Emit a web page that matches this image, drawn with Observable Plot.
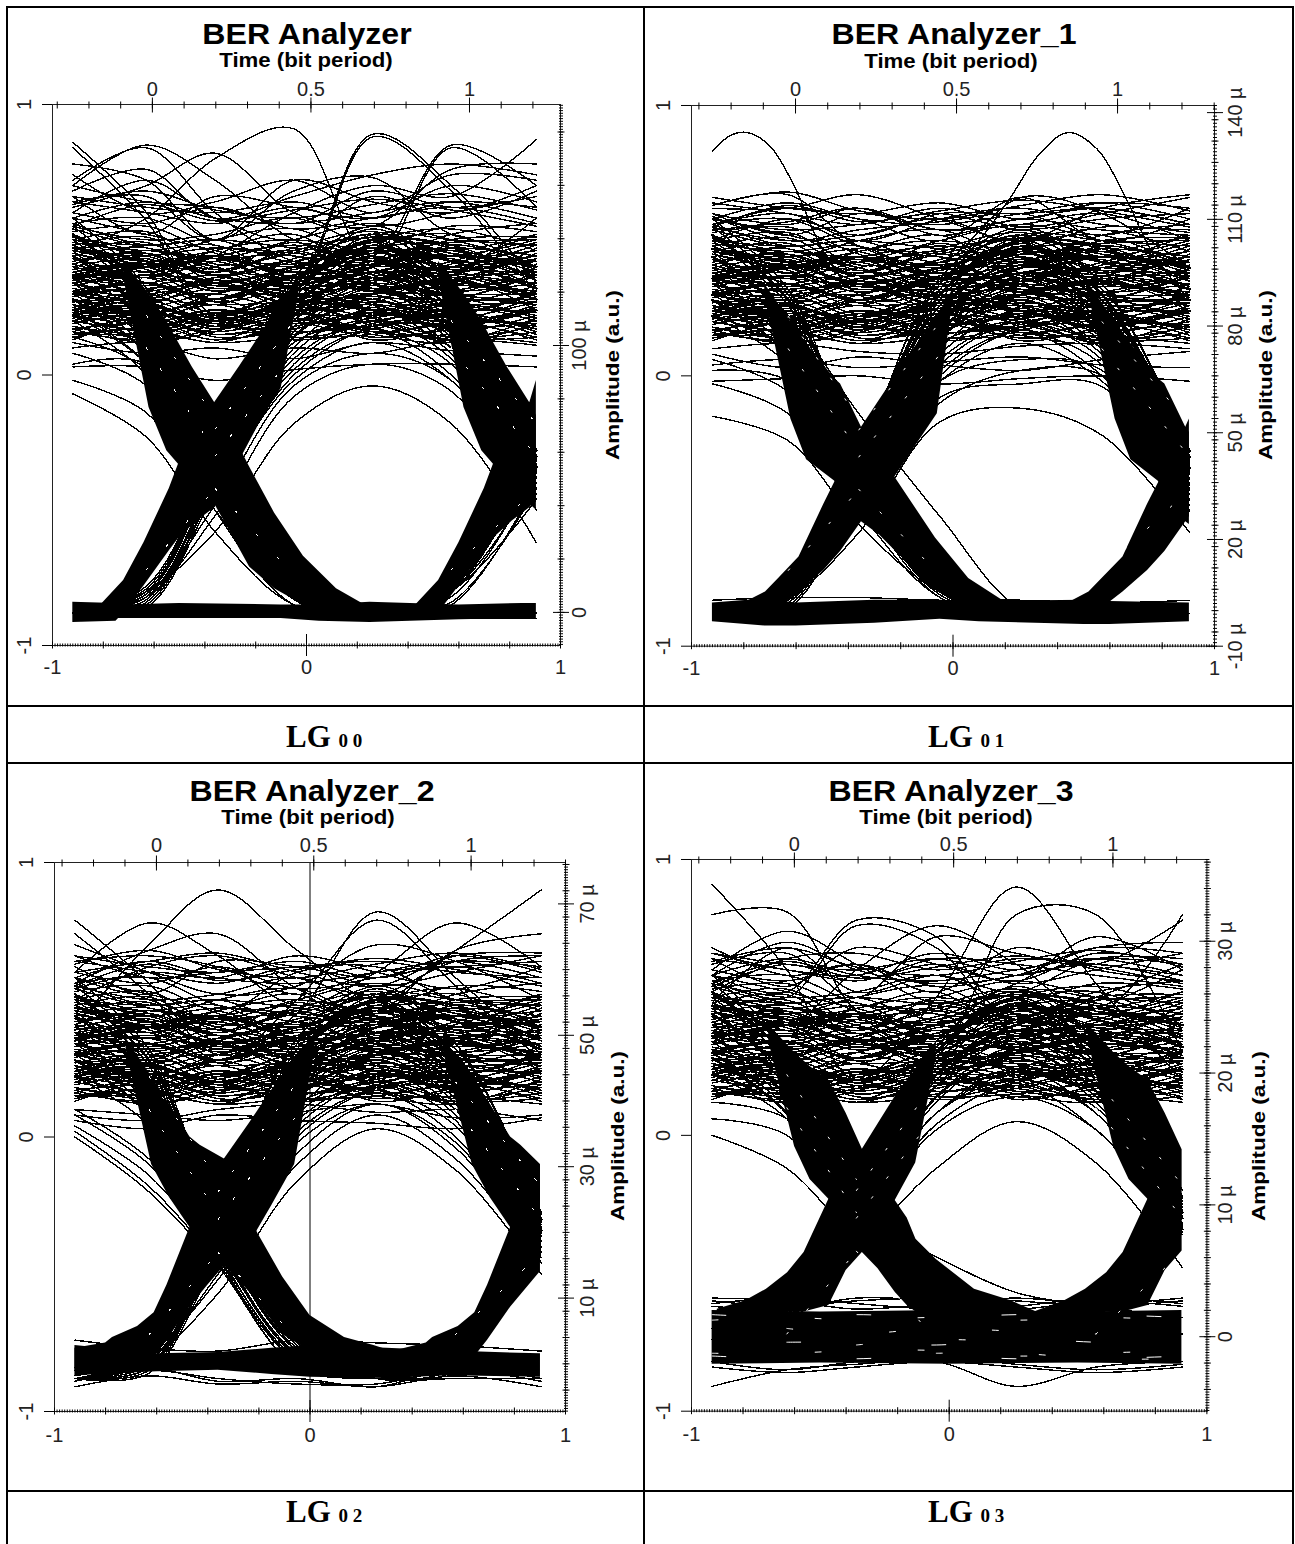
<!DOCTYPE html>
<html><head><meta charset="utf-8">
<script src="https://cdn.jsdelivr.net/npm/d3@7"></script>
<script src="https://cdn.jsdelivr.net/npm/@observablehq/plot@0.6"></script>
<style>
html,body{margin:0;padding:0;background:#fff}
#page{position:relative;width:1295px;height:1544px;overflow:hidden;background:#fff;color:#000}
.ln{position:absolute;background:#000}
.tx{position:absolute;white-space:nowrap;font-family:"Liberation Sans",Arial,sans-serif;font-weight:700;color:#000;line-height:1}
.cap{position:absolute;white-space:nowrap;font-family:"Liberation Serif","Times New Roman",serif;font-weight:700;font-size:31px;line-height:1;transform:translateY(-50%)}
.cap span{font-size:19px}
</style></head><body><div id="page"></div>
<script>
const _=null;
// knots of every trace, on the lower (normalised time) axis
const knotX=[-0.92,-0.63,-0.36,-0.05,0.26,0.57,0.905];
// traces that stay in the upper level, values x100 of the left axis
const denseHigh=[
[58,52,46,40,50,54,46],[56,58,48,44,42,52,56],[55,50,52,58,47,44,50],[54,47,43,50,56,50,42],[53,55,45,38,46,55,53],
[52,44,50,54,42,40,48],[50,53,41,45,52,47,38],[49,46,48,36,40,50,51],[48,51,39,47,53,44,46],[47,42,46,52,37,42,52],
[46,49,37,42,49,52,40],[45,40,44,48,44,36,45],[44,47,35,40,47,48,35],[43,38,43,34,50,45,42],[42,45,38,49,38,34,47],
[41,36,42,44,33,41,49],[40,43,33,37,45,46,36],[39,41,37,31,42,38,43],[38,34,40,46,36,30,41],[37,40,31,39,41,43,33],
[36,33,37,29,35,40,44],[35,38,28,36,43,34,31],[34,30,35,42,32,28,38],[33,36,27,33,38,37,29],[32,29,34,26,30,35,39],
[31,34,26,37,36,27,33],[30,27,32,28,25,31,36],[29,32,23,31,34,30,26],[28,25,30,24,28,33,31],[27,30,22,29,32,25,24],
[26,23,28,34,24,22,30],[25,28,20,25,30,29,21],[24,21,26,19,23,27,28],[23,26,19,27,28,20,25],[22,19,24,21,18,25,27],
[21,24,17,23,26,22,18],[20,17,23,16,20,24,23],[19,22,15,20,25,17,20],[18,15,20,24,16,15,22],[17,19,13,18,22,20,14],
[16,13,18,14,15,19,19],[15,17,12,19,17,13,16],[46,44,47,45,43,47,44],[42,46,43,41,46,44,42],
[38,41,39,36,41,39,38],[34,37,35,33,38,36,34],[30,32,33,30,33,30,30],[50,48,50,47,45,49,50],
[37,36,34,38,35,37,37],[27,28,26,27,29,26,27],
[51,45,37,43,51,45,35],[45,39,31,37,45,39,29],[41,46,40,33,41,46,39],[35,40,34,27,35,40,33],[31,28,36,40,31,28,37],
[26,22,30,34,26,22,31],[24,20,28,32,24,20,29],[48,40,42,35,48,40,42],[38,33,37,28,38,33,36],[36,31,35,26,36,31,34],
[28,22,16,22,27,23,17],[26,19,24,14,19,26,22],[24,27,18,23,16,20,27],[22,16,22,26,21,14,18],[20,24,14,17,24,21,13],
[18,14,21,24,13,18,24],[16,21,13,22,20,12,19],[14,18,20,13,17,22,15],[13,20,15,18,23,16,12],[22,25,21,19,22,26,20],
[19,23,19,16,18,23,17],[17,12,17,21,15,12,21],[15,16,23,20,14,17,26],[25,17,12,15,21,24,16],[23,13,16,25,19,13,14]];
// sparser traces above the dense level
const upperExtra=[[60,56,62,54,58,62,56],[58,64,58,56,60,64,58],[64,60,56,62,55,60,66],[66,62,60,64,58,64,62],[55,63,57,61,65,61,55],[63,68,61,58,63,67,61]];
// rise out of the low level, shared by the first three eyes
const riseStay=[[-88,-82,-40,10,30,34,30],[-88,-84,-36,22,40,44,36],[-88,-80,-32,30,52,50,48],[-88,-85,-42,4,22,28,26],[-88,-78,-30,34,50,46,52],[-88,-83,-38,16,36,40,42],[-88,-86,-44,0,18,22,30],[-88,-81,-34,26,46,38,34],[-88,-82,-37,20,34,48,40],[-88,-79,-31,36,55,42,44],[-88,-84,-41,8,26,36,24],[-88,-80,-35,24,42,30,28]];
const arches=[[-88,-82,-40,8,24,8,-40],[-88,-84,-36,20,38,22,-35],[-88,-80,-32,28,50,30,-30],[-88,-85,-42,2,16,0,-44],[-88,-78,-30,32,54,34,-28],[-88,-83,-38,14,32,18,-38],[-88,-86,-44,-2,12,-2,-46],[-88,-81,-34,24,44,26,-33],[-88,-82,-37,18,28,14,-36],[-88,-79,-31,30,46,28,-31],[-88,-84,-41,6,20,10,-42],[-88,-80,-35,22,36,20,-34],[-88,-83,-39,12,18,16,-40],[-88,-81,-33,26,40,32,-32]];
const falls=[[40,18,-36,-78,-88,-88,-88],[50,26,-32,-76,-88,-88,-88],[30,10,-40,-80,-88,-88,-88],[55,30,-30,-74,-87,-88,-88],[22,4,-44,-82,-88,-88,-88],[46,20,-34,-78,-88,-80,-38],[36,14,-38,-80,-88,-82,-36],[52,28,-31,-75,-87,-79,-33],[28,8,-42,-81,-88,-84,-42],[58,32,-28,-72,-86,-80,-30],[44,22,-35,-77,-88,-78,-35],[34,12,-39,-79,-88,-85,-40]];
const highFall=[[40,36,44,38,42,24,-36],[50,44,38,46,50,30,-32],[30,26,34,24,30,12,-40],[56,48,50,42,52,34,-28],[24,30,22,30,22,6,-44],[46,40,32,36,46,26,-34],[36,42,40,28,36,18,-38],[52,38,46,50,44,28,-31],[28,22,28,20,26,10,-42],[44,34,30,40,38,22,-36],[34,28,36,32,34,16,-38],[20,24,18,26,18,4,-46]];
// the fourth eye has a thicker, higher low level
const p3Fans=[[-72,-64,-26,22,42,46,40],[-72,-66,-30,12,32,36,30],[-74,-62,-22,30,52,50,48],[-70,-66,-32,8,24,30,26],[-72,-60,-20,34,50,46,52],[-76,-65,-28,18,36,40,42],[-68,-66,-33,4,20,24,30],[-72,-63,-24,26,46,38,34],
[-72,-65,-32,8,24,8,-32],[-74,-66,-28,20,38,22,-27],[-70,-62,-24,28,50,30,-22],[-72,-67,-34,4,18,2,-35],[-76,-60,-22,32,54,34,-20],[-72,-65,-30,14,32,18,-30],[-68,-68,-35,2,14,2,-36],[-72,-63,-26,24,44,26,-25],[-74,-64,-29,18,28,14,-28],[-72,-61,-23,30,46,28,-23],[-70,-66,-33,8,20,10,-33],[-72,-62,-27,22,36,20,-26],
[40,18,-28,-62,-72,-72,-72],[50,26,-24,-60,-74,-72,-72],[30,10,-32,-64,-70,-72,-72],[55,30,-22,-58,-74,-76,-72],[22,6,-35,-66,-72,-72,-72],[46,20,-26,-62,-72,-64,-30],[36,14,-30,-64,-76,-66,-28],[52,28,-23,-60,-70,-62,-25],[28,8,-33,-65,-72,-68,-34],[58,32,-20,-56,-68,-64,-22],[44,22,-27,-61,-74,-62,-27],[34,12,-31,-63,-72,-68,-32],
[40,36,44,38,42,24,-28],[50,44,38,46,50,30,-24],[30,26,34,24,30,12,-32],[56,48,50,42,52,34,-20],[24,30,22,30,22,8,-35],[46,40,32,36,46,26,-26],[36,42,40,28,36,18,-30],[52,38,46,50,44,28,-23]];
// traces that can be followed by eye, one list per eye
const p0Outer=[[46,58,80,91,40,38,58],[86,60,22,32,89,70,34],[84,57,20,30,88,68,30],[70,85,72,50,44,85,70],[72,84,60,42,40,84,62],[44,36,44,60,70,66,87],[62,70,82,60,55,76,78],[78,72,50,68,73,52,48],[68,76,58,66,74,78,74],[74,60,64,72,60,74,72],[60,72,58,50,66,58,68],[66,52,66,62,58,70,64],[64,66,50,72,64,60,70],[70,64,62,56,68,62,66],
[-7,-23,-58,-85,-88,-88,-88],[-88,-80,-58,-18,-4,-18,-62],[-2,-14,-50,-82,-88,-88,-88],[-88,-82,-52,-8,4,-6,-50],[-88,-81,-48,-4,8,-2,-46],[4,4,-40,-80,-88,-88,-88],[3,3,-2,2,4,4,3],[20,0,-50,-85,-90,-90,-90],[24,4,-47,-83,-90,-90,-90],[12,8,10,6,12,9,7],[10,12,6,10,8,13,11],[8,-4,-44,-80,-88,-88,-88],[14,2,-40,-78,-88,-80,-46]];
const p1Outer=[[63,67,48,42,66,60,40],[62,62,67,58,50,62,67],[56,62,58,50,66,50,58],[50,58,52,60,60,62,56],[60,52,60,54,56,60,50],[56,60,50,58,62,56,54],[58,54,56,60,54,58,60],[54,57,62,52,58,54,52],[59,50,54,57,60,52,62],
[-15,-24,-55,-80,-88,-88,-88],[-88,-82,-58,-17,-12,-22,-58],[-3,-14,-50,-82,-88,-88,-88],[2,-2,-44,-80,-88,-88,-88],[-88,-80,-50,-8,-3,-4,-50],[-88,-80,-52,-10,2,0,-48],[30,20,-14,-52,-86,-88,-88],[-83,-82,-82,-83,-83,-84,-83],[-2,-1,0,-3,-1,0,-2],[4,6,3,5,7,4,3],[8,3,7,4,2,6,9],[10,12,9,8,11,12,10],[6,-6,-46,-80,-88,-88,-88],[-88,-83,-46,-2,6,2,-44]];
const p2Outer=[[40,70,90,68,50,68,90],[79,56,30,45,82,58,30],[60,78,66,48,60,78,62],[56,68,74,54,46,68,74],[74,52,28,50,79,55,28],[60,64,67,60,55,66,67],[50,62,66,58,52,64,66],[62,50,44,60,62,50,48],[70,60,52,55,70,64,50],[66,58,60,62,64,60,58],[64,66,62,52,60,62,64],[58,52,64,62,58,66,60],[54,60,58,66,60,54,62],
[4,-14,-44,-82,-88,-88,-88],[8,-10,-42,-80,-88,-88,-88],[10,-8,-40,-80,-88,-88,-88],[2,-18,-46,-84,-88,-88,-88],[0,-20,-47,-84,-88,-88,-88],[-85,-80,-57,-16,3,-12,-50],[-84,-78,-52,-10,8,-8,-46],[-84,-79,-50,-6,12,-4,-44],[-91,-87,-90,-89,-91,-87,-91],[-89,-85,-88,-90,-90,-85,-89],[-87,-84,-89,-88,-91,-84,-88],[-74,-77,-78,-74,-75,-76,-78],[10,8,6,9,12,7,8],[8,6,10,12,9,10,6],[6,3,8,6,5,3,7]];
const p3Outer=[[91,60,20,50,90,55,20],[80,81,45,30,80,80,30],[58,52,78,72,40,50,62],[56,50,76,68,38,46,60],[60,74,62,48,55,72,60],[45,40,60,76,62,44,80],[62,66,50,72,66,62,78],[66,60,58,66,60,68,66],[58,70,60,55,58,68,70],[52,64,66,60,64,62,58],[64,54,68,62,56,66,62],[54,62,56,64,62,58,54],[48,68,52,58,52,64,64],[68,58,62,52,68,60,56],
[0,-12,-38,-62,-72,-72,-72],[6,0,-32,-60,-72,-72,-72],[-72,-66,-42,-12,5,-10,-48],[30,8,-28,-44,-57,-62,-66],[12,6,-26,-56,-72,-70,-32],
[-91,-85,-83,-82,-91,-84,-82],[-84,-86,-84,-82,-84,-86,-84],[-82,-85,-82,-80,-83,-85,-83],[-60,-62,-60,-59,-60,-62,-60],[-59,-60,-63,-61,-59,-61,-59],[-61,-59,-61,-63,-62,-59,-61],[-62,-63,-59,-60,-63,-60,-62]];
// heavily overlapped strands, drawn as wider lines
const heavy=[[47,42,34,40,47,42,32],[36,40,44,36,38,44,40],[30,34,28,36,31,35,28],[22,26,20,27,24,18,24],[52,28,-30],[44,22,-32],[36,14,-34],[28,8,-36],[_,_,-32,22,40,44],[_,_,-36,14,30,36],[_,_,-30,30,50,48],[_,_,_,_,44,24,-30],[_,_,_,_,34,16,-34],[_,_,_,_,50,30,-28]];
// pale specks left between the strands of the bundles
const specksFan=[[_,22,-16],[_,10,-28],[_,_,-20,20],[_,_,-30,8],[_,_,_,_,_,20,-18],[_,_,_,_,_,10,-30]];
const specksLow=[[_,-72,-42],[_,_,-42,-74],[_,_,_,_,_,-72,-42]];
const p3BandGaps=[[-67,-66,-67,-66,-67,-66,-67],[_,-70,-72,-70,-71,-72],[_,_,-76,-74,-75],[-79,-79,-78,-78,-80,-79,-78],[_,_,_,-79,-79,-81,-81]];
const p3BandGapsLong=[[-65,-66,-65,-66,-65,-65,-66],[_,-75,-75,-76,-74,-75,-76],[-80,-81,-81,-80,-81,-81,-80]];
// the single tall arc of eye 01, which needs its own sampling
const p1BigX=[-0.92,-0.85,-0.787,-0.70,-0.606,-0.495,-0.36,-0.2,-0.05,0.1,0.22,0.33,0.44,0.55,0.66,0.76,0.904];
const p1BigY=[83,89,90,85,70,46,30,28,35,50,66,82,90,84,66,46,28];
// solid regions: low level and the rising and falling bundles, x and y x100
const p0BandX=[-92,-75,-74,-50,-10,5,25,60,85,90.5],p0BandHi=[-84,-84.5,-85,-84.5,-85,-85,-84,-85,-84.5,-84.5],p0BandLo=[-91.5,-91,-90,-90,-90,-91,-91.5,-90.5,-90,-90];
const p0RiseX=[-82,-72,-64,-54,-50,-43,-36,-26.5,-18,-10,-3],p0RiseHi=[-86,-76,-62,-42,-32,-20,-10,3,15,27,36],p0RiseLo=[-90,-88,-78,-65,-60,-54,-49,-32,-17,-5,30];
const p0FallX=[-72,-62,-55,-50.4,-45,-36.3,-30,-22.4,-12.6,-1.2,11.8,23],p0FallHi=[42,30,20,12,3,-10,-20,-34,-51,-67,-79,-85],p0FallLo=[36,-12,-28,-33,-40,-47.5,-58,-71,-79,-85,-90,-90];
const p0Rise2X=[42,52,60,70,74,81,88,90.5],p0Rise2Hi=[-86,-76,-62,-42,-32,-20,-10,-2],p0Rise2Lo=[-90,-88,-78,-65,-60,-54,-49,-46];
const p0Fall2X=[52,62,69,73.6,79,87.7,90.5],p0Fall2Hi=[42,30,20,12,3,-10,-15],p0Fall2Lo=[36,-12,-28,-33,-40,-47.5,-50];
const p1BandX=[-92,-72,-60,-30,-5,10,50,60,90.4],p1BandHi=[-84,-82.5,-84,-83,-83,-83.5,-83,-83.5,-84],p1BandLo=[-91,-92.5,-92.5,-91.5,-90,-91,-92,-92,-91];
const p1RiseX=[-80,-71.7,-66.7,-58.9,-49.4,-43,-35,-24,-15,-6,0],p1RiseHi=[-84,-80,-75,-67,-47.5,-35,-19,-3,10,22,32],p1RiseLo=[-88,-88,-86,-80,-72,-65,-54,-40,-27,-14,28];
const p1FallX=[-72,-62,-56,-45.3,-43,-35,-28,-20.8,-6.7,6,20.5],p1FallHi=[34,20,12,-1,-3,-19,-29,-39.5,-60,-75,-84],p1FallLo=[30,-16,-31,-38.9,-42,-54,-59,-66,-79,-86,-88];
const p1Rise2X=[44,52,57,65,74.4,81,89,90.4],p1Rise2Hi=[-84,-80,-75,-67,-47.5,-35,-19,-16],p1Rise2Lo=[-88,-88,-86,-80,-72,-65,-54,-52];
const p1Fall2X=[52,62,68,78.4,81,89,90.4],p1Fall2Hi=[34,20,12,-1,-3,-19,-21],p1Fall2Lo=[30,-16,-31,-38.9,-42,-54,-55];
const p2BandX=[-92,-60,-36,-15,0,30,55,90.2],p2BandHi=[-76,-79,-78.5,-77,-76,-77,-78,-79],p2BandLo=[-87,-85.5,-85,-86.5,-87.5,-88,-87,-87.5];
const p2RiseX=[-92,-80,-77.3,-67.5,-61,-56,-47,-40,-33.5,-23.7,-15,-6,2],p2RiseHi=[-77,-75,-73,-69,-64,-54,-33,-20,-8,5,17,28,38],p2RiseLo=[-85,-85,-85,-84,-80,-74,-62,-54,-47,-39,-25,-10,32];
const p2FallX=[-72,-62,-55,-47,-43,-33.5,-27,-20.5,-10.7,0,13.5,25,35],p2FallHi=[36,22,12,0,-3,-8,-20,-35,-51,-65,-73,-76,-79],p2FallLo=[32,-10,-22,-33,-37,-47,-53,-60,-72,-78,-80,-80,-80];
const p2Rise2X=[33,45.5,48,58,64.5,69.5,78.5,90.2],p2Rise2Hi=[-78,-75,-73,-69,-64,-54,-33,-10],p2Rise2Lo=[-85,-85,-85,-84,-80,-74,-62,-49];
const p2Fall2X=[52,63.5,70.5,78.5,82.5,90.2],p2Fall2Hi=[36,22,12,0,-3,-10],p2Fall2Lo=[32,-10,-22,-33,-37,-46];
const p3BandX=[-92,-50,0,50,90.3],p3BandHi=[-63.5,-64,-63.5,-64,-63.5],p3BandLo=[-83,-82.5,-83,-82.5,-83];
const p3RiseX=[-90,-79,-70.9,-62.7,-56.3,-46.7,-40,-33.7,-27,-21,-13,-5],p3RiseHi=[-63,-60,-55.8,-49.8,-42.5,-23.2,-14,-5,5,14,24,34],p3RiseLo=[-68,-68,-66,-64,-64,-61.7,-49,-42.5,-32,-23.7,-10,28];
const p3FallX=[-70,-60,-54,-46.7,-40,-33.7,-27.6,-20.9,-16.3,-12.9,-5,9.8,24,34],p3FallHi=[40,30,25,20,8,-5,-14,-23.7,-30,-37.7,-45,-55.8,-60,-64],p3FallLo=[34,-4,-16,-23.2,-34,-42.5,-48.4,-57,-61.7,-64,-66,-68,-68,-68];
const p3Rise2X=[33,44.8,52.9,61.1,67.5,77.1,83.8,90.3],p3Rise2Hi=[-64,-60,-55.8,-49.8,-42.5,-23.2,-14,-5],p3Rise2Lo=[-68,-68,-66,-64,-64,-61.7,-49,-42];
const p3Fall2X=[54,63.8,69.8,77.1,83.8,90.3],p3Fall2Hi=[40,30,25,20,8,-5],p3Fall2Lo=[34,-4,-16,-23.2,-34,-42];
// axes
const timeLabels=[0,0.5,1],unitLabels=[-1,0,1];
const p0AmpLabels=[0,100],p1AmpLabels=[-10,20,50,80,110,140],p2AmpLabels=[10,30,50,70],p3AmpLabels=[0,10,20,30];
const titles=["BER Analyzer","BER Analyzer_1","BER Analyzer_2","BER Analyzer_3"];
const captions=["0 0","0 1","0 2","0 3"];

const M=48, page=document.getElementById("page");
const shared=[...denseHigh,...upperExtra];
const panels=[
{xL:52,xR:560,yT:104,yB:645,time:[-0.315,1.287],amp:[-12.4,190.3],ampLabels:p0AmpLabels,ampMid:20,ampFine:1,ampPad:25,
 traces:[...shared,...riseStay,...arches,...falls,...highFall,...p0Outer],
 solids:[[p0BandX,p0BandLo,p0BandHi],[p0RiseX,p0RiseLo,p0RiseHi],[p0FallX,p0FallLo,p0FallHi],[p0Rise2X,p0Rise2Lo,p0Rise2Hi],[p0Fall2X,p0Fall2Lo,p0Fall2Hi]],
 title:[307,34],time_t:[306,60],topPad:9,botPad:14,ampTitle:[613,375],capX:286,capY:736},
{xL:691,xR:1214,yT:105,yB:645.7,time:[-0.323,1.301],amp:[-10,142],ampLabels:p1AmpLabels,ampMid:6,ampFine:1,ampPad:28,
 traces:[...shared,...riseStay,...arches,...falls,...highFall,...p1Outer],
 solids:[[p1BandX,p1BandLo,p1BandHi],[p1RiseX,p1RiseLo,p1RiseHi],[p1FallX,p1FallLo,p1FallHi],[p1Rise2X,p1Rise2Lo,p1Rise2Hi],[p1Fall2X,p1Fall2Lo,p1Fall2Hi]],
 big:[p1BigX,p1BigY],title:[954,34],time_t:[951,61],topPad:9,botPad:15,ampTitle:[1266,375],capX:928,capY:736},
{xL:54,xR:565,yT:861.7,yB:1410.7,time:[-0.324,1.30],amp:[-7.26,76.3],ampLabels:p2AmpLabels,ampMid:4,ampFine:0.4,ampPad:28,
 traces:[...shared,...riseStay,...arches,...falls,...highFall,...p2Outer],
 solids:[[p2BandX,p2BandLo,p2BandHi],[p2RiseX,p2RiseLo,p2RiseHi],[p2FallX,p2FallLo,p2FallHi],[p2Rise2X,p2Rise2Lo,p2Rise2Hi],[p2Fall2X,p2Fall2Lo,p2Fall2Hi]],
 rule:true,title:[312,791],time_t:[308,817],topPad:11,botPad:16,ampTitle:[618,1136],capX:286,capY:1511},
{xL:690.6,xR:1206,yT:859,yB:1410.7,time:[-0.323,1.295],amp:[-5.65,36.2],ampLabels:p3AmpLabels,ampMid:2,ampFine:0.2,ampPad:25,
 traces:[...shared,...p3Fans,...p3Outer],
 solids:[[p3BandX,p3BandLo,p3BandHi],[p3RiseX,p3RiseLo,p3RiseHi],[p3FallX,p3FallLo,p3FallHi],[p3Rise2X,p3Rise2Lo,p3Rise2Hi],[p3Fall2X,p3Fall2Lo,p3Fall2Hi]],
 gaps:p3BandGaps,gapsLong:p3BandGapsLong,title:[951,791],time_t:[946,817],topPad:8,botPad:16,ampTitle:[1259,1136],capX:928,capY:1511}
];
const tickAxisX=(vals,anchor,size)=>Plot.axisX(vals,{anchor,tickSize:size,dy:anchor==="top"?size/2:-size/2,fill:"none",label:null,stroke:"black"});
const tickAxisY=(vals,anchor,size)=>Plot.axisY(vals,{anchor,tickSize:size,dx:anchor==="right"?-size/2:size/2,fill:"none",label:null,stroke:"black"});
const labelStyle={fontSize:20,fill:"#222",label:null,tickSize:0};
const rows=list=>list.flatMap((t,k)=>t.map((v,i)=>({k,x:knotX[i],y:v==null?NaN:v/100})));
const solid=([X,Lo,Hi])=>Plot.areaY(X.map((x,i)=>({x:x/100,lo:Lo[i]/100,hi:Hi[i]/100})),{x:"x",y1:"lo",y2:"hi",fill:"black"});
const lineOpts={x:"x",y:"y",stroke:"black",strokeWidth:1.4,curve:"catmull-rom",shapeRendering:"crispEdges"};

function frame(p,xDomain,yDomain){
  const w=p.xR-p.xL+2*M,h=p.yB-p.yT+2*M;
  return {width:w,height:h,marginLeft:M,marginRight:M,marginTop:M,marginBottom:M,
    x:{domain:xDomain,axis:null},y:{domain:yDomain,axis:null},
    style:{position:"absolute",left:(p.xL-M)+"px",top:(p.yT-M)+"px",background:"transparent",overflow:"visible",color:"black",fontFamily:'"Liberation Sans",Arial,sans-serif'}};
}
panels.forEach((p,i)=>{
  page.append(Plot.plot({...frame(p,[-1,1],[-1,1]),marks:[
    p.rule?Plot.ruleX([0],{stroke:"black"}):null,
    Plot.line(rows(p.traces),{...lineOpts,z:"k"}),
    Plot.line(rows(heavy),{...lineOpts,z:"k",strokeWidth:2.5}),
    p.big?Plot.line(p.big[0].map((x,j)=>({x,y:p.big[1][j]/100})),lineOpts):null,
    ...p.solids.map(solid),
    Plot.line(rows(specksFan),{...lineOpts,z:"k",stroke:"white",strokeWidth:1,strokeDasharray:"2 23"}),
    Plot.line(rows(specksLow),{...lineOpts,z:"k",stroke:"white",strokeWidth:1,strokeDasharray:"2 29"}),
    p.gaps?Plot.line(rows(p.gaps),{...lineOpts,z:"k",stroke:"white",strokeWidth:1,strokeDasharray:"6 97"}):null,
    p.gapsLong?Plot.line(rows(p.gapsLong),{...lineOpts,z:"k",stroke:"white",strokeWidth:1,strokeDasharray:"14 131"}):null,
    Plot.frame({stroke:"#222"}),
    Plot.axisY(unitLabels,{anchor:"left",tickSize:10,fill:"none",label:null,stroke:"black"}),
    Plot.axisY(unitLabels,{...labelStyle,anchor:"left",tickPadding:22,tickRotate:-90,textAnchor:"middle",tickFormat:d=>String(d)}),
    tickAxisX(d3.range(-100,101).map(d=>d/100),"bottom",3),
    tickAxisX(d3.range(-5,6).map(d=>d/5),"bottom",7),
    tickAxisX([0],"bottom",22),
    Plot.axisX(unitLabels,{...labelStyle,anchor:"bottom",tickPadding:p.botPad,tickFormat:d=>String(d)})
  ]}));
  const t0=Math.ceil(p.time[0]*10),t1=Math.floor(p.time[1]*10);
  const fine=d3.range(Math.ceil(p.amp[0]/p.ampFine),Math.floor(p.amp[1]/p.ampFine)+1).map(d=>d*p.ampFine);
  const mid=d3.range(Math.ceil(p.amp[0]/p.ampMid),Math.floor(p.amp[1]/p.ampMid)+1).map(d=>d*p.ampMid);
  page.append(Plot.plot({...frame(p,p.time,p.amp),marks:[
    tickAxisX(d3.range(t0,t1+1).map(d=>d/10),"top",7),
    tickAxisX(timeLabels,"top",15),
    Plot.axisX(timeLabels,{...labelStyle,anchor:"top",tickPadding:p.topPad,tickFormat:d=>String(d)}),
    tickAxisY(fine,"right",4),
    tickAxisY(mid,"right",7),
    tickAxisY(p.ampLabels,"right",16),
    Plot.axisY(p.ampLabels,{...labelStyle,anchor:"right",tickPadding:p.ampPad,tickRotate:-90,textAnchor:"middle",tickFormat:d=>d===0?"0":d+" µ"})
  ]}));
  const add=(cls,txt,css)=>{const e=document.createElement("div");e.className=cls;e.innerHTML=txt;e.style.cssText=css;page.append(e);};
  add("tx",titles[i],`left:${p.title[0]}px;top:${p.title[1]}px;font-size:30px;transform:translate(-50%,-50%) scaleX(1.07)`);
  add("tx","Time (bit period)",`left:${p.time_t[0]}px;top:${p.time_t[1]}px;font-size:20px;transform:translate(-50%,-50%) scaleX(1.11)`);
  add("tx","Amplitude (a.u.)",`left:${p.ampTitle[0]}px;top:${p.ampTitle[1]}px;font-size:18px;transform:translate(-50%,-50%) rotate(-90deg) scaleX(1.25)`);
  add("cap",`LG <span>${captions[i]}</span>`,`left:${p.capX}px;top:${p.capY}px`);
});
// table rules around the four cells
[[6,6,2,1538],[643,6,2,1538],[1292,6,2,1538],[6,6,1288,2],[6,705,1288,2],[6,762,1288,2],[6,1490,1288,2]].forEach(([l,t,w,h])=>{
  const e=document.createElement("div");e.className="ln";e.style.cssText=`left:${l}px;top:${t}px;width:${w}px;height:${h}px`;page.append(e);
});
</script></body></html>
